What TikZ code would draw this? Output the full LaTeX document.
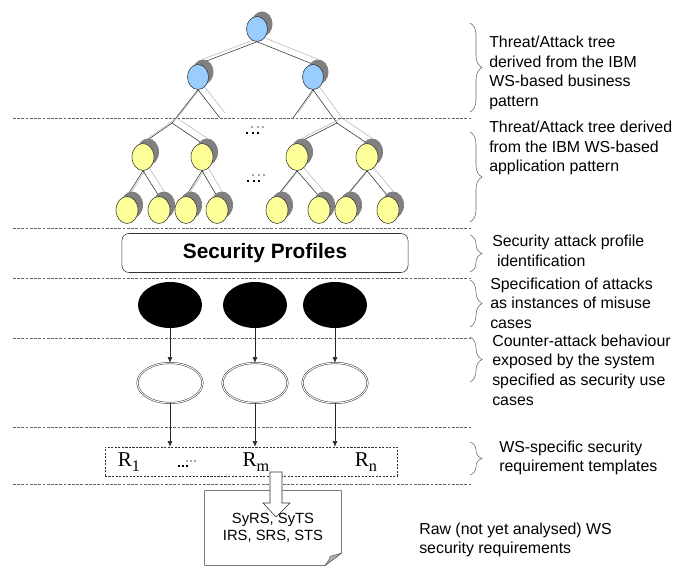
\documentclass[tikz,border=0pt]{standalone}
\usepackage{fontspec}
\setmainfont{Liberation Sans}
\newfontfamily\reqfont{Liberation Serif}
\usepackage{tikz}
\usetikzlibrary{positioning, backgrounds, arrows.meta, shapes.geometric, shadows, decorations.pathreplacing, calc}

\definecolor{nodeblue}{HTML}{99CCFF}
\definecolor{nodeyellow}{HTML}{FFFF99}

\newcommand{\reqlabel}[1]{{\reqfont R\raisebox{-0.6ex}{\fontsize{11.5}{12}\selectfont #1}}}

\tikzset{
    treenode/.style={
        ellipse,
        draw=black!80,
        line width=0.4pt,
        inner sep=0pt,
        drop shadow={shadow xshift=0.125cm, shadow yshift=0.125cm, fill=gray, opacity=1}
    },
    bluenode/.style={treenode, fill=nodeblue, minimum width=0.525cm, minimum height=0.625cm},
    yellownode/.style={treenode, fill=nodeyellow, minimum width=0.55cm, minimum height=0.675cm},
    treeedge/.style={draw=black!80, line width=0.4pt},
    treeshade/.style={draw=gray!55, line width=0.4pt},
    layerline/.style={draw=gray!80!black, line width=0.5pt, dash pattern=on 2pt off 1pt},
    layerbrace/.style={
        draw=gray!80!black,
        line width=0.4pt,
        decorate,
        decoration={brace, amplitude=0.3cm}
    },
    note/.style={
        anchor=west,
        align=left,
        inner sep=0pt,
        font=\fontsize{11.3}{13.9}\selectfont
    },
    misuse/.style={ellipse, fill=black, inner sep=0pt, minimum width=1.6cm, minimum height=1.15cm},
    usecase/.style={
        ellipse,
        draw=black!80,
        line width=0.35pt,
        double=white,
        double distance=0.7pt,
        inner sep=0pt,
        minimum width=1.625cm,
        minimum height=1.0cm
    },
    flow/.style={-{Latex[length=4pt, width=3.5pt]}, draw=black!85, line width=0.4pt}
}

\begin{document}
\begin{tikzpicture}[
    x=0.025cm,
    y=-0.025cm,
    >=Latex
]

\useasboundingbox (0,0) rectangle (678,584);

% =================================================
% LAYER SEPARATORS
% =================================================

\foreach \y in {118, 228, 278, 338, 427, 484}{
    \draw[layerline] (13,\y) -- (472,\y);
}

% =================================================
% THREAT/ATTACK TREES
% =================================================

% Business pattern tree
\node[bluenode] (root) at (257,29) {};
\node[bluenode] (b1) at (198,77) {};
\node[bluenode] (b2) at (313,77) {};

% Application pattern trees
\coordinate (apexL) at (172,123);
\coordinate (apexR) at (337,123);
\coordinate (stubL) at (220,118);
\coordinate (stubR) at (293,118);

\foreach \n/\x in {y1/143, y2/202, y3/297, y4/367}{
    \node[yellownode] (\n) at (\x,157) {};
}

\foreach \n/\x in {l1/127, l2/159, l3/186, l4/217, l5/277, l6/319, l7/346, l8/388}{
    \node[yellownode] (\n) at (\x,210) {};
}

% Branches
\begin{scope}[on background layer]
\foreach \a/\b in {root.south/b1.north, root.south/b2.north,
    b1.south/apexL, b1.south/stubL, b2.south/stubR, b2.south/apexR,
    apexL/y1.north, apexL/y2.north, apexR/y3.north, apexR/y4.north,
    y1.south/l1.north, y1.south/l2.north, y2.south/l3.north, y2.south/l4.north,
    y3.south/l5.north, y3.south/l6.north, y4.south/l7.north, y4.south/l8.north}{
    \draw[treeshade] ([shift={(5,-5)}]\a) -- ([shift={(5,-5)}]\b);
    \draw[treeedge] (\a) -- (\b);
}
\end{scope}

% Omitted branches
\foreach \x/\y in {246/132, 247/180}{
    \foreach \d in {0,6,11}{
        \fill[gray!70] (\x+\d+5,\y-6) rectangle +(2,2);
        \fill[black] (\x+\d,\y) rectangle +(2,2);
    }
}

% =================================================
% SECURITY PROFILES
% =================================================

\node[
    draw=black!80,
    line width=0.4pt,
    rounded corners=5pt,
    minimum width=7.15cm,
    minimum height=0.975cm,
    font=\fontsize{14.8}{16}\selectfont\bfseries
] (profiles) at (265,253)
{Security Profiles};

% =================================================
% MISUSE AND USE CASES
% =================================================

\foreach \i/\x in {1/170, 2/255, 3/335}{
    \node[misuse] (m\i) at (\x,305) {};
    \node[usecase] (u\i) at (\x,383) {};
    \draw[flow] (m\i.south) -- (u\i.north);
}

% =================================================
% REQUIREMENT TEMPLATES
% =================================================

\node[
    draw=black!80,
    line width=0.4pt,
    dash pattern=on 1.5pt off 1pt,
    minimum width=7.3cm,
    minimum height=0.725cm
] (templates) at (251,461.5) {};

\foreach \i in {1,2,3}{
    \draw[flow] (u\i.south) -- (templates.north -| u\i.south);
}

\node[font=\fontsize{15}{16}\selectfont] (r1) at (129,462) {\reqlabel{1}};
\node[font=\fontsize{15}{16}\selectfont] (rm) at (256,462) {\reqlabel{m}};
\node[font=\fontsize{15}{16}\selectfont] (rn) at (366,462) {\reqlabel{n}};

\foreach \d in {0,4,8}{
    \fill[gray!70] (182+\d+4,460) rectangle +(1.5,1.5);
    \fill[black] (178+\d,465) rectangle +(1.5,1.5);
}

% =================================================
% RAW REQUIREMENTS DOCUMENT
% =================================================

\node[
    minimum width=3.4cm,
    minimum height=1.85cm,
    inner sep=0pt,
    align=center,
    font=\fontsize{10.5}{12}\selectfont
] (doc) at (273,528)
{SyRS, SyTS\\
IRS, SRS, STS};

\draw[draw=black!80, line width=0.4pt]
    (doc.north west) -- (doc.north east)
    -- ($(doc.south east)+(0,-12)$)
    -- ($(doc.south east)+(-16,0)$)
    -- (doc.south west) -- cycle;

\fill[gray!60, draw=black!70, line width=0.3pt]
    ($(doc.south east)+(-16,0)$)
    .. controls ($(doc.south east)+(-12,-6)$) .. ($(doc.south east)+(-11,-9)$)
    -- ($(doc.south east)+(0,-12)$) -- cycle;

% Hollow arrow
\draw[draw=black!80, line width=0.4pt, fill=white]
    (270,472) -- (270,503) -- (263,503) -- (276,517)
    -- (290,503) -- (282,503) -- (282,472) -- cycle;

% =================================================
% LAYER DESCRIPTIONS
% =================================================

\foreach \t/\b in {23/112, 132/222, 235/272, 280/327, 337/382, 442/475}{
    \draw[layerbrace] (470,\t) -- (470,\b);
}

\node[note] (d1) at (489,73)
{Threat/Attack tree\\
derived from the IBM\\
WS-based business\\
pattern};

\node[note] (d2) at (489,148)
{Threat/Attack tree derived\\
from the IBM WS-based\\
application pattern};

\node[note] (d3) at (492,251)
{Security attack profile\\
\hspace{0.3em}identification};

\node[note] (d4) at (490,303)
{Specification of attacks\\
as instances of misuse\\
cases};

\node[note] (d5) at (492,370)
{Counter-attack behaviour\\
exposed by the system\\
specified as security use\\
cases};

\node[note] (d6) at (499,458)
{WS-specific security\\
requirement templates};

\node[note] (d7) at (419,540)
{Raw (not yet analysed) WS\\
security requirements};

\end{tikzpicture}
\end{document}
